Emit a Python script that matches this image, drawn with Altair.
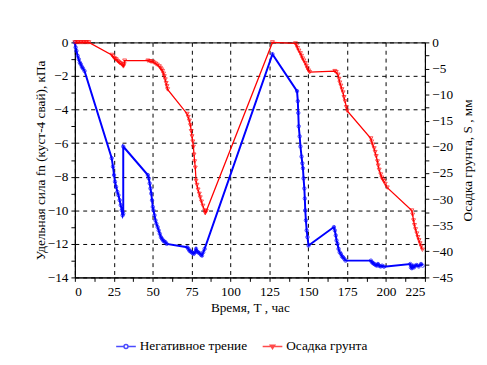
import altair as alt
import pandas as pd

series_names = ["Негативное трение", "Осадка грунта"]

# Negative friction (left axis, kPa)
fn_t = [0, 0.5, 1, 1.8, 2.5, 3.2, 3.8, 4.5, 5.2, 6.2, 23.7, 24.5, 25.2, 25.8, 26.5, 27.3, 28, 28.8,
        29.5, 30.2, 30.7, 31.1, 31.1, 46.9, 47.5, 48.1, 48.6, 49.1, 49.6, 50.1, 50.5, 51.2, 51.8,
        52.4, 53.2, 53.9, 54.6, 55.3, 56, 56.7, 57.4, 58.2, 59, 72.2, 73, 73.6, 74.3, 75, 75.7,
        76.4, 77.2, 77.9, 78.5, 79.2, 80, 81, 81.7, 82.5, 83.4, 127, 142.8, 143.3, 143.6, 143.9,
        144.5, 145, 145.7, 146.2, 146.6, 147, 147.5, 147.8, 148.1, 148.5, 149, 149.5, 150.2,
        166.5, 167.1, 167.7, 168.2, 168.8, 169.5, 170.2, 171, 171.7, 172.4, 173.2, 174, 190.3,
        191, 191.7, 192.4, 193.2, 194, 194.8, 195.6, 196.5, 197.5, 198.7, 215.6, 216, 216.6,
        217.2, 218, 218.8, 219.8, 221, 222.5, 223.5]
fn_v = [0, -0.3, -0.5, -0.8, -1.0, -1.2, -1.3, -1.45, -1.55, -1.7, -6.9, -7.4, -7.9, -8.3, -8.6,
        -8.9, -9.1, -9.4, -9.7, -10.0, -10.3, -10.2, -6.2, -7.9, -8.1, -8.4, -8.7, -9.0, -9.4,
        -9.8, -10.0, -10.3, -10.6, -10.8, -11.0, -11.2, -11.4, -11.6, -11.7, -11.8, -11.85,
        -11.9, -12.0, -12.2, -12.3, -12.4, -12.45, -12.5, -12.55, -12.6, -12.5, -12.3, -12.45,
        -12.5, -12.55, -12.65, -12.7, -12.5, -12.3, -0.7, -2.9, -3.5, -4.2, -5.0, -5.6, -6.2,
        -6.8, -7.2, -7.5, -8.1, -8.7, -9.3, -10.0, -10.6, -11.2, -11.6, -12.1, -11.0, -11.2,
        -11.5, -11.8, -12.0, -12.3, -12.5, -12.6, -12.75, -12.8, -12.9, -13.0, -13.0, -13.1,
        -13.15, -13.2, -13.25, -13.3, -13.2, -13.3, -13.35, -13.3, -13.36, -13.2, -13.4, -13.45,
        -13.3, -13.4, -13.3, -13.26, -13.35, -13.2, -13.3]

# Soil settlement (right axis, mm)
s_t = [0, 1, 2, 3, 4, 5, 6, 7, 8, 9, 23.7, 24.5, 25.3, 26, 26.7, 27.5, 28.3, 29, 29.8, 30.5, 31.2,
       31.7, 32, 46.9, 48, 49, 50.1, 51, 52, 53, 54.3, 55, 55.7, 56.4, 57, 57.5, 58.1, 58.7, 59.2,
       59.6, 72.2, 72.9, 73.6, 74.3, 74.8, 75.3, 75.8, 76.2, 76.6, 77, 77.4, 77.9, 78.5, 79.2, 80,
       80.6, 81.4, 82.3, 83.4, 83.8, 84.5, 127, 141.8, 142.5, 143.2, 144, 145, 145.7, 146.4,
       147.2, 148.1, 148.8, 149.5, 150.2, 150.9, 167.1, 168, 169.2, 169.8, 170.3, 171, 171.7,
       172.4, 173, 173.7, 174.5, 175.1, 190.3, 190.8, 191.5, 192.4, 193, 193.7, 194.5, 195,
       195.6, 196.6, 197.3, 198, 198.7, 199.5, 200.8, 216.6, 217.1, 217.7, 218.3, 219, 219.8,
       220.5, 221.2, 221.9, 222.6, 223.4]
s_v = [0, 0, 0, 0, 0, 0, 0, 0, 0, 0, -2.4, -2.7, -3.0, -3.2, -3.3, -3.6, -3.8, -4.0, -4.1, -4.3,
       -4.6, -4.2, -3.5, -3.5, -3.6, -3.7, -3.7, -3.9, -4.1, -4.3, -4.6, -4.9, -5.2, -5.5, -6.0,
       -6.5, -7.1, -7.8, -8.4, -9.0, -13.7, -14.3, -15.0, -15.9, -17, -18, -19, -20, -21.5,
       -22.8, -24, -26.5, -27.3, -28.2, -29, -29.7, -30.5, -31.3, -32.2, -32.7, -32.3, 0, -0.2,
       -0.6, -1.1, -1.6, -2.1, -2.6, -3.1, -3.5, -4.0, -4.5, -5.0, -5.4, -5.7, -5.5, -5.7, -6.2,
       -7.0, -7.7, -8.3, -9.0, -9.6, -10.5, -11.3, -12.4, -13.1, -18.4, -19, -19.6, -20.3, -21,
       -21.8, -22.8, -23.6, -24.4, -25.3, -25.9, -26.3, -26.6, -27.1, -27.8, -32.2, -33, -34.1,
       -35, -35.8, -36.6, -37.3, -37.9, -38.5, -39.1, -39.7]

x_ticks = [i * 12.5 for i in range(19)]
left_ticks = [-i for i in range(15)]
right_ticks = [-i * 2.5 for i in range(19)]

FONT = "Liberation Serif, Times New Roman, Times, serif"
FS = 13.5

df_fn = pd.DataFrame({"t": fn_t, "fn": fn_v, "order": range(len(fn_t))})
df_s = pd.DataFrame({"t": s_t, "s": s_v, "order": range(len(s_t))})
df_leg = pd.DataFrame({"series": series_names})

x_scale = alt.Scale(domain=[0, 225], nice=False, zero=False)
yl_scale = alt.Scale(domain=[-14, 0], nice=False)
yr_scale = alt.Scale(domain=[-45, 0], nice=False)

common = dict(labelFont=FONT, labelFontSize=FS, labelColor="black",
              titleFont=FONT, titleFontSize=FS, titleFontWeight="normal", titleColor="black",
              domainColor="black", tickColor="black", labelPadding=3, tickSize=4)

x_axis = alt.Axis(
    values=x_ticks,
    labelExpr="datum.value % 25 == 0 ? datum.label : ''",
    gridOpacity={"condition": {"test": "datum.value % 25 != 0", "value": 0}, "value": 1},
    grid=True, gridDash=[4, 4], gridColor="black", gridWidth=1,
    title="Время, Т , час", titlePadding=3, **common,
)
left_axis = alt.Axis(
    values=left_ticks,
    labelExpr="datum.value % 2 == 0 ? datum.label : ''",
    gridOpacity={"condition": {"test": "datum.value % 2 != 0", "value": 0}, "value": 1},
    grid=True, gridDash=[4, 4], gridColor="black", gridWidth=1,
    title="Удельная сила fn (куст-4 свай), кПа", titlePadding=0, **common,
)
right_axis = alt.Axis(
    orient="right",
    values=right_ticks,
    labelExpr="datum.value % 5 == 0 ? datum.label : ''",
    grid=False,
    title="Осадка грунта, S , мм", titlePadding=8, titleAngle=270, titleBaseline="top",
    **common,
)

X = alt.X("t:Q", scale=x_scale, axis=x_axis)
YL = alt.Y("fn:Q", scale=yl_scale, axis=left_axis)
YR = alt.Y("s:Q", scale=yr_scale, axis=right_axis)

blue_line = alt.Chart(df_fn).mark_line(color="#0000ff", strokeWidth=2).encode(
    x=X, y=YL, order="order:Q",
)
blue_pts = alt.Chart(df_fn).mark_point(shape="circle", color="#0000ff", filled=False,
                                        size=12, strokeWidth=1).encode(x=X, y=YL)
red_line = alt.Chart(df_s).mark_line(color="#ff0000", strokeWidth=1.3).encode(
    x=X, y=YR, order="order:Q",
)
red_pts = alt.Chart(df_s).mark_point(shape="triangle-down", color="#ff0000", filled=False,
                                      size=16, strokeWidth=1).encode(x=X, y=YR)

circle_path = "M-1,0L-0.2,0M0.2,0L1,0M-0.2,0A0.2,0.2,0,1,1,0.2,0A0.2,0.2,0,1,1,-0.2,0"
tri_path = "M-1,0L1,0M-0.22,-0.12L0.22,-0.12L0,0.22Z"

leg = alt.Legend(title=None, orient="none", direction="horizontal", legendX=41, legendY=298,
                 labelFont=FONT, labelFontSize=FS, labelColor="black")
legend_layer = alt.Chart(df_leg).transform_filter("false").mark_point(
    filled=False, strokeWidth=1.5).encode(
    color=alt.Color("series:N", scale=alt.Scale(domain=series_names, range=["#0000ff", "#ff0000"]),
                    legend=leg),
    shape=alt.Shape("series:N", scale=alt.Scale(domain=series_names, range=[circle_path, tri_path]),
                    legend=leg),
)

left = alt.layer(blue_line, blue_pts)
right = alt.layer(red_line, red_pts)

chart = alt.layer(left, right, legend_layer).resolve_scale(y="independent").properties(
    width=356, height=239,
    padding={"left": 25, "top": 25, "right": 5, "bottom": 5},
).configure(
    background="white", font=FONT,
).configure_view(
    stroke="black", strokeWidth=1,
).configure_legend(
    labelFont=FONT, labelFontSize=FS, labelColor="black",
    symbolSize=400, symbolStrokeWidth=1.5, columnPadding=12, labelOffset=3,
)

chart.save("out.html", embed_options={"renderer": "svg", "actions": False})
